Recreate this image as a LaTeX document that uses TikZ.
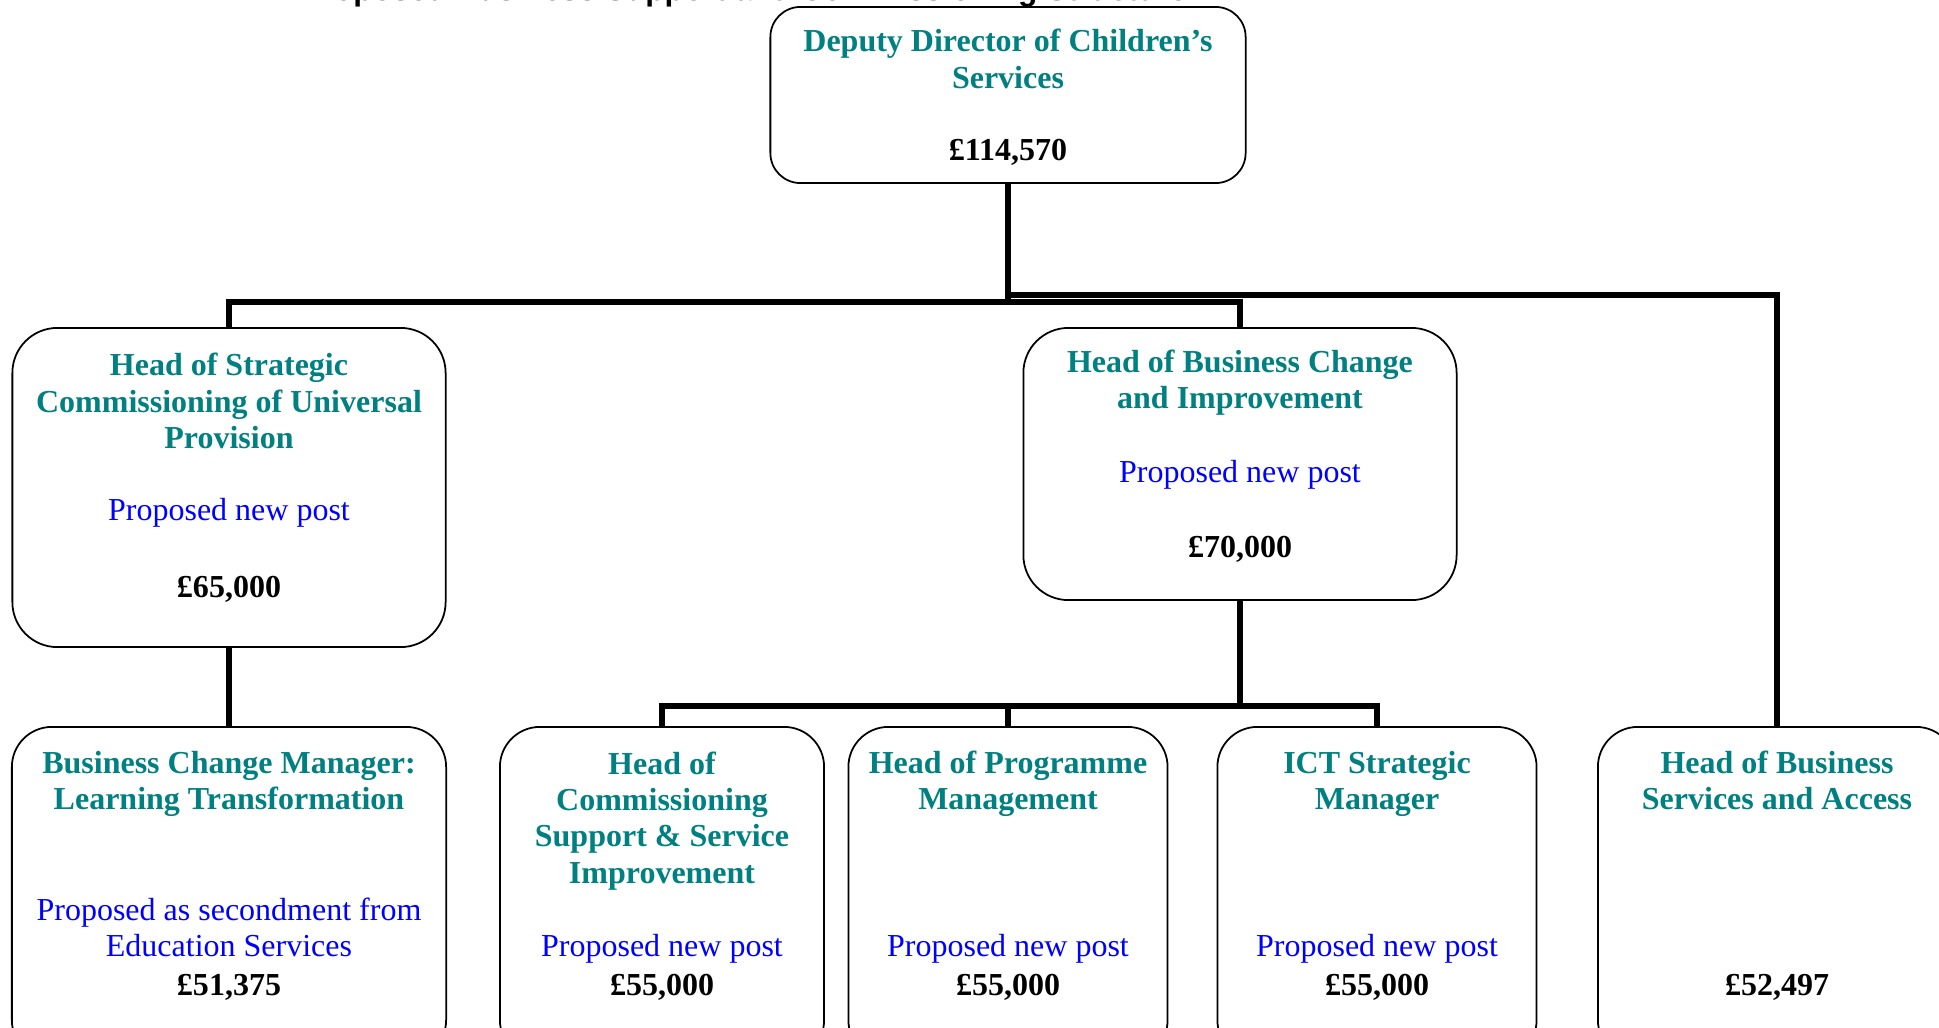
\documentclass[tikz,border=0pt]{standalone}
\usepackage{fontspec}
\setmainfont{Liberation Serif}
\newfontfamily\titlefont{Liberation Sans}
\usepackage{tikz}
\usepackage{xcolor}

\definecolor{postteal}{RGB}{0,128,128}
\definecolor{postblue}{RGB}{0,0,255}
\tikzset{
	post/.style={draw, line width=0.5pt, rounded corners=0.4cm, inner sep=0pt},
	role/.style={text=postteal, font=\fontsize{9.1}{10.3}\selectfont\bfseries, align=center, inner sep=0pt},
	note/.style={text=postblue, font=\fontsize{9.1}{10.3}\selectfont, align=center, inner sep=0pt},
	pay/.style={font=\fontsize{9.1}{10.3}\selectfont\bfseries, inner sep=0pt},
	link/.style={line width=1.8pt},
}

\begin{document}
\begin{tikzpicture}[x=0.01cm, y=-0.01cm]
	\useasboundingbox (0,0) rectangle (1939,1027);
	\node[anchor=base west, inner sep=0pt, font=\titlefont\fontsize{9}{10}\selectfont\bfseries] (title) at (300,0.5) {Proposed Business Support and Commissioning Structure};

	\node[post, rounded corners=0.3cm, minimum width=4.75cm, minimum height=1.76cm] (dd) at (1008,95) {};
	\node[post, rounded corners=0.45cm, minimum width=4.33cm, minimum height=3.19cm] (hsc) at (229,487.5) {};
	\node[post, rounded corners=0.45cm, minimum width=4.33cm, minimum height=2.72cm] (hbc) at (1240,464) {};
	\node[post, minimum width=4.34cm, minimum height=3.33cm] (bcm) at (229,893.5) {};
	\node[post, minimum width=3.24cm, minimum height=3.33cm] (hcs) at (662,893.5) {};
	\node[post, minimum width=3.19cm, minimum height=3.33cm] (hpm) at (1008,893.5) {};
	\node[post, minimum width=3.19cm, minimum height=3.33cm] (ict) at (1377,893.5) {};
	\node[post, minimum width=3.58cm, minimum height=3.33cm] (hbs) at (1777,893.5) {};

	\node[role] (dd-r) at (1008,59) {Deputy Director of Children’s\\Services};
	\node[pay] (dd-p) at (1008,152) {£114,570};

	\node[role] (hsc-r) at (229,401) {Head of Strategic\\Commissioning of Universal\\Provision};
	\node[note] (hsc-n) at (229,513) {Proposed new post};
	\node[pay] (hsc-p) at (229,589) {£65,000};

	\node[role] (hbc-r) at (1240,383) {Head of Business Change\\and Improvement};
	\node[note] (hbc-n) at (1240,475) {Proposed new post};
	\node[pay] (hbc-p) at (1240,549) {£70,000};

	\node[role] (bcm-r) at (229,784) {Business Change Manager:\\Learning Transformation};
	\node[note] (bcm-n) at (229,927) {Proposed as secondment from\\Education Services};
	\node[pay] (bcm-p) at (229,987) {£51,375};

	\node[role] (hcs-r) at (662,821) {Head of\\Commissioning\\Support \& Service\\Improvement};
	\node[note] (hcs-n) at (662,949) {Proposed new post};
	\node[pay] (hcs-p) at (662,987) {£55,000};

	\node[role] (hpm-r) at (1008,784) {Head of Programme\\Management};
	\node[note] (hpm-n) at (1008,949) {Proposed new post};
	\node[pay] (hpm-p) at (1008,987) {£55,000};

	\node[role] (ict-r) at (1377,784) {ICT Strategic\\Manager};
	\node[note] (ict-n) at (1377,949) {Proposed new post};
	\node[pay] (ict-p) at (1377,987) {£55,000};

	\node[role] (hbs-r) at (1777,780) {Head of Business\\Services and Access};
	\node[pay] (hbs-p) at (1777,987) {£52,497};

	\coordinate (j1) at (1008,302);
	\coordinate (j2) at (1008,295);
	\coordinate (j3) at (1240,706);

	\draw[link]
		(dd.south) -- (j1)
		(j1) -| (hsc.north)
		(j1) -| (hbc.north)
		(j2) -| (hbs.north)
		(hsc.south) -- (bcm.north)
		(hbc.south) -- (j3)
		(j3) -| (hcs.north)
		(j3) -| (hpm.north)
		(j3) -| (ict.north)
	;
\end{tikzpicture}
\end{document}
